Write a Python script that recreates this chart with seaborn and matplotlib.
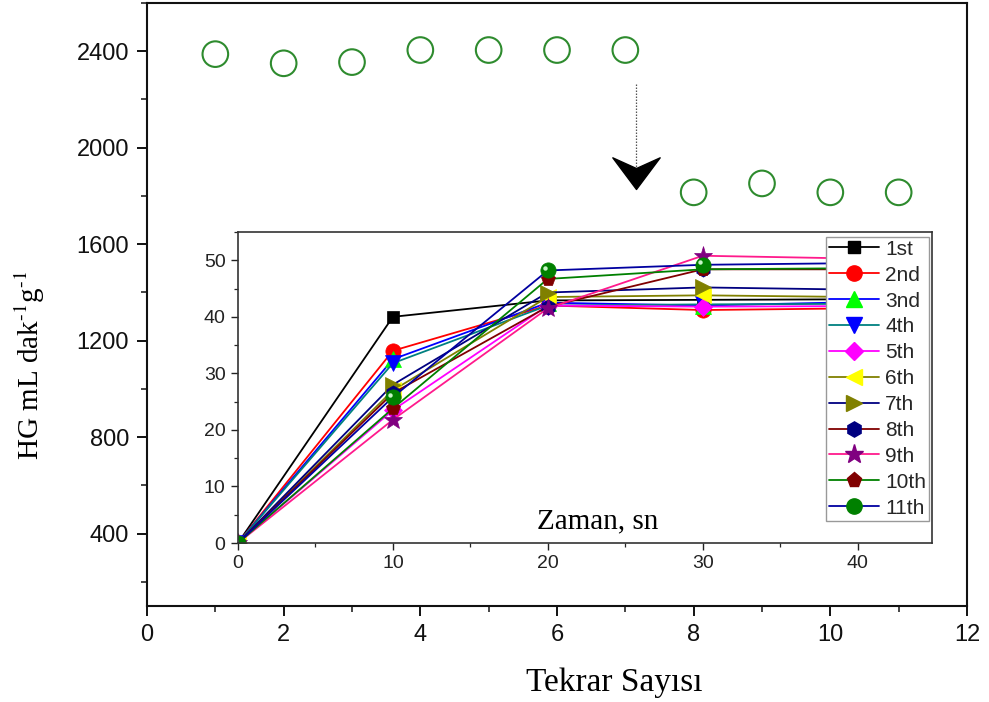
import numpy as np
import pandas as pd
import matplotlib
matplotlib.use("Agg")
import matplotlib.pyplot as plt
import matplotlib.transforms as mtransforms
from matplotlib.path import Path
from matplotlib.lines import Line2D
from matplotlib.ticker import MultipleLocator
import seaborn as sns

# Hydrogen generation rate for each reuse cycle
cycles = [1, 2, 3, 4, 5, 6, 7, 8, 9, 10, 11]
hg_rate = [2388, 2350, 2355, 2405, 2405, 2405, 2405, 1815, 1852, 1815, 1815]

# Inset: generated volume against time for each cycle
time_s = [0, 10, 20, 30, 40]
run_labels = ["1st", "2nd", "3nd", "4th", "5th", "6th", "7th", "8th", "9th", "10th", "11th"]
run_1 = [0, 40.0, 42.9, 43.0, 43.1]
run_2 = [0, 34.0, 42.0, 41.2, 41.5]
run_3 = [0, 32.5, 42.5, 42.0, 42.6]
run_4 = [0, 31.8, 42.0, 42.2, 42.3]
run_5 = [0, 23.5, 42.0, 41.8, 41.9]
run_6 = [0, 27.0, 43.5, 43.8, 43.5]
run_7 = [0, 28.0, 44.3, 45.2, 44.8]
run_8 = [0, 26.5, 41.8, 48.4, 48.4]
run_9 = [0, 21.8, 41.5, 50.8, 50.3]
run_10 = [0, 23.8, 46.7, 48.4, 48.6]
run_11 = [0, 25.8, 48.2, 49.2, 49.5]
run_values = [run_1, run_2, run_3, run_4, run_5, run_6, run_7, run_8, run_9, run_10, run_11]

line_colors = ["#000000", "#ff0000", "#0000ff", "#008080", "#ff00ff", "#808000",
               "#000080", "#800000", "#ff1a8c", "#008000", "#0000a0"]
marker_colors = ["#000000", "#ff0000", "#00ff00", "#0000ff", "#ff00ff", "#ffff00",
                 "#808000", "#000080", "#800080", "#800000", "#008000"]
marker_shapes = ["s", "o", "^", "v", "D", "<", ">", "h", "*", "p", "o"]
marker_sizes = [9, 11, 11, 11, 9, 11, 11, 11, 14, 11, 11]

sns.set_theme(style="ticks")
plt.rcParams["font.family"] = ["Liberation Sans", "DejaVu Sans"]
plt.rcParams["mathtext.fontset"] = "stix"

fig = plt.figure(figsize=(9.89, 7.02), dpi=100)
ax = fig.add_axes([147 / 989, 1 - 606 / 702, 820 / 989, 603 / 702])

# Open circles for the main series
main_df = pd.DataFrame({"cycle": cycles, "rate": hg_rate})
sns.scatterplot(data=main_df, x="cycle", y="rate", ax=ax, marker="o", s=340,
                facecolor="none", edgecolor="#2e8b2e", linewidth=1.5, zorder=3)

ax.set_xlim(0, 12)
ax.set_ylim(100, 2600)
ax.xaxis.set_major_locator(MultipleLocator(2))
ax.xaxis.set_minor_locator(MultipleLocator(1))
ax.yaxis.set_major_locator(MultipleLocator(400))
ax.yaxis.set_minor_locator(MultipleLocator(200))
ax.tick_params(which="major", length=7, width=1.4, labelsize=17, colors="#111111", pad=6)
ax.tick_params(which="minor", length=4.5, width=1.2)
for sp in ax.spines.values():
    sp.set_linewidth(1.5)
    sp.set_color("#111111")

ax.set_xlabel("Tekrar Sayısı", family="Liberation Serif", fontsize=24, color="black")
ax.set_ylabel(r"HG mL dak$^{\text{-1}}$g$^{\text{-1}}$", family="Liberation Serif",
              fontsize=21, color="black")
for lab in (ax.xaxis.label, ax.yaxis.label):
    lab.set_verticalalignment("center")
    lab.set_horizontalalignment("center")
ax.xaxis.set_label_coords(0.57, -0.128)
ax.yaxis.set_label_coords(-0.143, 0.40)

# Dotted guide with a solid arrowhead marking the drop after cycle 7
ax.plot([7.16, 7.16], [2265, 1880], ls=(0, (1.2, 1.2)), lw=0.9, color="#555555", zorder=2)
head = Path([(0, 0), (23.7, 31.7), (0, 21), (-23.7, 31.7), (0, 0)],
            [Path.MOVETO, Path.LINETO, Path.LINETO, Path.LINETO, Path.CLOSEPOLY])
ax.plot([7.16], [1827], marker=head, ms=45.6, color="black", mec="black", ls="none", zorder=3)

# Inset axes
ins = fig.add_axes([238 / 989, 1 - 543 / 702, 694 / 989, 311 / 702])
for vals, lc, mc, mk, ms in zip(run_values, line_colors, marker_colors, marker_shapes, marker_sizes):
    sns.lineplot(x=time_s, y=vals, ax=ins, color=lc, lw=1.3, marker=mk, markersize=ms,
                 markerfacecolor=mc, markeredgecolor=mc, markeredgewidth=0.5)

# Highlight on the spherical markers of the last run
shift = mtransforms.ScaledTranslation(-1.8 / 72, 1.8 / 72, fig.dpi_scale_trans)
ins.plot(time_s, run_11, ls="none", marker="o", ms=3.2, mfc="#c8f5c8", mec="none",
         transform=ins.transData + shift)

ins.set_xlim(0, 44.8)
ins.set_ylim(0, 55)
ins.xaxis.set_major_locator(MultipleLocator(10))
ins.xaxis.set_minor_locator(MultipleLocator(5))
ins.yaxis.set_major_locator(MultipleLocator(10))
ins.yaxis.set_minor_locator(MultipleLocator(5))
ins.tick_params(which="major", length=5, width=1.0, labelsize=14, colors="#222222", pad=4)
ins.tick_params(which="minor", length=3, width=0.9)
for sp in ins.spines.values():
    sp.set_linewidth(1.2)
    sp.set_color("#333333")
ins.set_xlabel("")
ins.set_ylabel("")
ins.text(0.519, 0.068, "Zaman, sn", transform=ins.transAxes, ha="center", va="center",
         family="Liberation Serif", fontsize=21, color="black")

handles = [Line2D([], [], color=lc, lw=1.3, marker=mk, ms=ms, mfc=mc, mec=mc)
           for lc, mc, mk, ms in zip(line_colors, marker_colors, marker_shapes, marker_sizes)]
leg = ins.legend(handles, run_labels, loc="upper right", bbox_to_anchor=(0.996, 0.985),
                 borderaxespad=0, fontsize=15, frameon=True, fancybox=False,
                 edgecolor="#999999", framealpha=1, handlelength=2.4, handletextpad=0.3,
                 labelspacing=0.33, borderpad=0.15)
leg.get_frame().set_linewidth(1.0)

fig.savefig("out.png", dpi=100)
